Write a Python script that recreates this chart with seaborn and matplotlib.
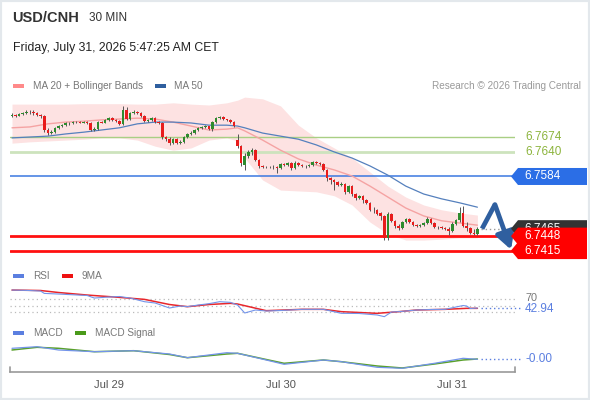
import numpy as np
import matplotlib
matplotlib.use("Agg")
import matplotlib.pyplot as plt
import seaborn as sns
from matplotlib.patches import Polygon, Rectangle
from matplotlib.transforms import IdentityTransform

sns.set_style("white")
plt.rcParams['font.family'] = ['Liberation Sans', 'DejaVu Sans']

# ---------------- data ----------------
opens = [
    6.7723, 6.7724, 6.7723, 6.7726, 6.7729, 6.7731, 6.7732, 6.7729, 6.7724, 6.7722,
    6.7690, 6.7683, 6.7685, 6.7695, 6.7699, 6.7701, 6.7705, 6.7706, 6.7708, 6.7708,
    6.7707, 6.7708, 6.7706, 6.7690, 6.7692, 6.7708, 6.7707, 6.7713, 6.7717, 6.7713,
    6.7710, 6.7704, 6.7736, 6.7715, 6.7729, 6.7731, 6.7729, 6.7722, 6.7710, 6.7713,
    6.7717, 6.7708, 6.7706, 6.7674, 6.7669, 6.7660, 6.7669, 6.7660, 6.7663, 6.7674,
    6.7681, 6.7683, 6.7690, 6.7695, 6.7697, 6.7698, 6.7692, 6.7708, 6.7717, 6.7720,
    6.7714, 6.7713, 6.7708, 6.7667, 6.7653, 6.7610, 6.7631, 6.7640, 6.7644, 6.7622,
    6.7608, 6.7606, 6.7606, 6.7605, 6.7606, 6.7603, 6.7612, 6.7610, 6.7615, 6.7603,
    6.7615, 6.7610, 6.7608, 6.7607, 6.7610, 6.7617, 6.7615, 6.7612, 6.7599, 6.7581,
    6.7576, 6.7571, 6.7565, 6.7567, 6.7549, 6.7562, 6.7544, 6.7535, 6.7540, 6.7530,
    6.7524, 6.7508, 6.7507, 6.7501, 6.7494, 6.7444, 6.7498, 6.7483, 6.7471, 6.7467,
    6.7480, 6.7487, 6.7480, 6.7473, 6.7471, 6.7473, 6.7478, 6.7487, 6.7478, 6.7469,
    6.7468, 6.7467, 6.7464, 6.7460, 6.7476, 6.7485, 6.7501, 6.7471, 6.7467, 6.7455,
    6.7453]
closes = [
    6.7725, 6.7723, 6.7726, 6.7729, 6.7731, 6.7732, 6.7729, 6.7724, 6.7722, 6.7690,
    6.7683, 6.7685, 6.7695, 6.7699, 6.7701, 6.7705, 6.7706, 6.7708, 6.7709, 6.7707,
    6.7708, 6.7706, 6.7690, 6.7692, 6.7708, 6.7707, 6.7713, 6.7717, 6.7713, 6.7710,
    6.7704, 6.7736, 6.7715, 6.7729, 6.7731, 6.7729, 6.7722, 6.7710, 6.7713, 6.7717,
    6.7708, 6.7706, 6.7674, 6.7669, 6.7660, 6.7669, 6.7660, 6.7663, 6.7674, 6.7681,
    6.7683, 6.7690, 6.7695, 6.7697, 6.7698, 6.7692, 6.7708, 6.7717, 6.7720, 6.7714,
    6.7713, 6.7708, 6.7699, 6.7653, 6.7615, 6.7631, 6.7640, 6.7644, 6.7622, 6.7608,
    6.7606, 6.7605, 6.7605, 6.7606, 6.7603, 6.7612, 6.7610, 6.7615, 6.7603, 6.7615,
    6.7610, 6.7608, 6.7607, 6.7610, 6.7617, 6.7615, 6.7612, 6.7599, 6.7581, 6.7576,
    6.7571, 6.7565, 6.7567, 6.7549, 6.7562, 6.7544, 6.7535, 6.7540, 6.7530, 6.7524,
    6.7508, 6.7507, 6.7498, 6.7494, 6.7444, 6.7498, 6.7483, 6.7471, 6.7467, 6.7480,
    6.7487, 6.7480, 6.7473, 6.7471, 6.7473, 6.7478, 6.7487, 6.7478, 6.7469, 6.7468,
    6.7467, 6.7464, 6.7460, 6.7476, 6.7485, 6.7501, 6.7471, 6.7467, 6.7455, 6.7453,
    6.7465]
highs = [
    6.7729, 6.7726, 6.7729, 6.7731, 6.7736, 6.7736, 6.7736, 6.7731, 6.7726, 6.7724,
    6.7695, 6.7690, 6.7697, 6.7701, 6.7704, 6.7708, 6.7708, 6.7710, 6.7710, 6.7710,
    6.7710, 6.7710, 6.7708, 6.7697, 6.7710, 6.7710, 6.7715, 6.7720, 6.7720, 6.7715,
    6.7713, 6.7745, 6.7742, 6.7731, 6.7736, 6.7733, 6.7731, 6.7724, 6.7715, 6.7720,
    6.7720, 6.7710, 6.7708, 6.7676, 6.7674, 6.7672, 6.7672, 6.7667, 6.7676, 6.7683,
    6.7688, 6.7692, 6.7697, 6.7699, 6.7701, 6.7699, 6.7710, 6.7720, 6.7722, 6.7722,
    6.7715, 6.7715, 6.7710, 6.7681, 6.7656, 6.7638, 6.7644, 6.7649, 6.7647, 6.7624,
    6.7610, 6.7608, 6.7608, 6.7610, 6.7608, 6.7615, 6.7615, 6.7617, 6.7617, 6.7619,
    6.7617, 6.7612, 6.7610, 6.7612, 6.7619, 6.7619, 6.7617, 6.7615, 6.7601, 6.7583,
    6.7578, 6.7574, 6.7571, 6.7569, 6.7565, 6.7565, 6.7546, 6.7542, 6.7542, 6.7533,
    6.7526, 6.7514, 6.7510, 6.7503, 6.7496, 6.7503, 6.7501, 6.7485, 6.7476, 6.7483,
    6.7489, 6.7489, 6.7483, 6.7476, 6.7476, 6.7480, 6.7492, 6.7489, 6.7480, 6.7471,
    6.7471, 6.7469, 6.7469, 6.7480, 6.7487, 6.7514, 6.7517, 6.7480, 6.7469, 6.7464,
    6.7469]
lows = [
    6.7720, 6.7720, 6.7722, 6.7724, 6.7726, 6.7726, 6.7724, 6.7722, 6.7717, 6.7685,
    6.7679, 6.7681, 6.7683, 6.7692, 6.7697, 6.7699, 6.7701, 6.7704, 6.7706, 6.7705,
    6.7706, 6.7704, 6.7688, 6.7688, 6.7690, 6.7706, 6.7706, 6.7710, 6.7710, 6.7708,
    6.7701, 6.7701, 6.7713, 6.7713, 6.7726, 6.7726, 6.7720, 6.7708, 6.7708, 6.7710,
    6.7706, 6.7704, 6.7669, 6.7665, 6.7656, 6.7658, 6.7658, 6.7658, 6.7660, 6.7672,
    6.7679, 6.7681, 6.7688, 6.7692, 6.7695, 6.7690, 6.7688, 6.7706, 6.7715, 6.7713,
    6.7710, 6.7706, 6.7697, 6.7649, 6.7608, 6.7599, 6.7626, 6.7633, 6.7619, 6.7603,
    6.7603, 6.7603, 6.7603, 6.7601, 6.7592, 6.7601, 6.7608, 6.7608, 6.7599, 6.7601,
    6.7608, 6.7606, 6.7603, 6.7606, 6.7608, 6.7612, 6.7610, 6.7596, 6.7574, 6.7567,
    6.7553, 6.7562, 6.7562, 6.7544, 6.7546, 6.7540, 6.7530, 6.7533, 6.7524, 6.7521,
    6.7505, 6.7501, 6.7496, 6.7485, 6.7439, 6.7439, 6.7480, 6.7467, 6.7462, 6.7464,
    6.7478, 6.7478, 6.7471, 6.7469, 6.7469, 6.7471, 6.7476, 6.7476, 6.7467, 6.7464,
    6.7464, 6.7462, 6.7451, 6.7458, 6.7473, 6.7480, 6.7469, 6.7460, 6.7453, 6.7451,
    6.7451]

date_ticks = [27, 75, 123]
date_labels = ["Jul 29", "Jul 30", "Jul 31"]

band_idx = [0, 5, 10, 15, 20, 25, 30, 35, 40, 45, 50, 55, 60, 63, 65, 70, 75,
            80, 85, 90, 95, 100, 105, 110, 115, 120, 125, 130]
bb_upper = [6.7749, 6.7749, 6.7749, 6.7749, 6.7750, 6.7750, 6.7750, 6.7749, 6.7749,
            6.7752, 6.7749, 6.7747, 6.7752, 6.7758, 6.7765, 6.7761, 6.7745, 6.7701,
            6.7672, 6.7649, 6.7626, 6.7594, 6.7562, 6.7537, 6.7519, 6.7508, 6.7501, 6.7496]
ma20 = [6.7695, 6.7697, 6.7704, 6.7708, 6.7710, 6.7713, 6.7715, 6.7717, 6.7715,
        6.7708, 6.7699, 6.7690, 6.7692, 6.7695, 6.7688, 6.7667, 6.7644, 6.7624,
        6.7610, 6.7599, 6.7585, 6.7562, 6.7537, 6.7512, 6.7494, 6.7483, 6.7478, 6.7473]
bb_lower = [6.7660, 6.7663, 6.7665, 6.7667, 6.7669, 6.7672, 6.7672, 6.7667, 6.7653,
            6.7644, 6.7649, 6.7667, 6.7672, 6.7665, 6.7626, 6.7576, 6.7553, 6.7551,
            6.7549, 6.7540, 6.7519, 6.7480, 6.7453, 6.7439, 6.7439, 6.7441, 6.7444, 6.7444]
ma50 = [6.7672, 6.7674, 6.7676, 6.7681, 6.7685, 6.7690, 6.7695, 6.7704, 6.7708,
        6.7708, 6.7706, 6.7701, 6.7701, 6.7699, 6.7695, 6.7683, 6.7676, 6.7669,
        6.7656, 6.7640, 6.7626, 6.7608, 6.7587, 6.7562, 6.7544, 6.7533, 6.7524, 6.7514]

resist_levels = [6.7674, 6.7640]
pivot_level = 6.7584
support_levels = [6.7448, 6.7415]

forecast_steps = [1.3, 4.9, 9.4]
forecast_prices = [6.7465, 6.7520, 6.7417]

rsi_idx = [0, 4, 8, 9, 13, 21, 23, 27, 30, 33, 37, 40, 44, 47, 49, 52, 55, 58, 61, 63,
           65, 68, 71, 75, 81, 87, 89, 92, 97, 102, 104, 106, 108, 113, 117, 121, 124,
           126, 127, 128, 130]
rsi_vals = [97, 96, 94, 87, 85, 80.6, 73, 76, 77.6, 73, 62, 58, 43, 49, 47, 52, 56, 62,
            60, 52, 28, 37, 34, 35.5, 39, 39, 34, 27, 26.5, 22, 17, 31, 32, 37, 38.5, 39,
            46, 50.5, 49, 41.5, 42.94]
ma9_idx = [0, 8, 13, 21, 30, 37, 44, 49, 55, 61, 63, 71, 81, 87, 92, 102, 108, 113,
           121, 127, 130]
ma9_vals = [97, 95.6, 89.6, 82, 75, 69, 53.5, 47, 53.5, 57, 55, 35, 39, 39, 32, 27, 32,
            37, 39, 42, 42]
rsi_grid = [70, 50, 30]
rsi_label_levels = [70]

macd_idx = [0, 7, 13, 23, 34, 44, 49, 60, 63, 71, 76, 87, 92, 102, 109, 118, 126, 130]
macd_vals = [0.00107, 0.00123, 0.00090, 0.00073, 0.00083, 0.00050, 0.00013, 0.00063,
             0.00057, -0.00010, -0.00053, -0.00010, -0.00027, -0.00083, -0.00093,
             -0.00043, 0.00007, -0.00003]
signal_vals = [0.00090, 0.00117, 0.00107, 0.00073, 0.00083, 0.00045, 0.00013, 0.00050,
               0.00057, -0.00005, -0.00043, -0.00010, -0.00027, -0.00070, -0.00090,
               -0.00050, -0.00010, 0.00000]

# ---------------- layout ----------------
W, H = 590, 400
fig = plt.figure(figsize=(W / 100, H / 100), dpi=100)
fig.patch.set_facecolor('white')


def rect(l, t, r, b):
    return [l / W, 1 - b / H, (r - l) / W, (b - t) / H]


def fx(px):
    return px / W


def fy(py):
    return 1 - py / H


XL = (-0.56, 140.5)
ax_p = fig.add_axes(rect(10, 95, 515, 262))
ax_r = fig.add_axes(rect(10, 285, 515, 325))
ax_m = fig.add_axes(rect(10, 340, 515, 372))
for a in (ax_p, ax_r, ax_m):
    a.set_xlim(*XL)
    a.set_facecolor('none')
ax_p.set_ylim(6.7389, 6.77698)
ax_r.set_ylim(-8.1, 112.2)
ax_m.set_ylim(-0.0013, 0.0019)

# frame around the picture
fig.add_artist(Rectangle((0, 0), 1, 1, transform=fig.transFigure, fill=False,
                         edgecolor='#e3e8ec', lw=3, zorder=10))

# ---------------- header ----------------
fig.text(fx(12), fy(18), "USD/CNH", fontsize=10.5, fontweight='bold', color='#333333', va='center')
fig.text(fx(89), fy(18), "30 MIN", fontsize=8.5, color='#333333', va='center')
fig.text(fx(13), fy(48), "Friday, July 31, 2026 5:47:25 AM CET", fontsize=8.8,
         color='#222222', va='center')


def swatch(x0, yc, color):
    fig.add_artist(Rectangle((fx(x0), fy(yc + 2)), 11 / W, 4 / H, transform=fig.transFigure,
                             facecolor=color, edgecolor='none'))


swatch(13, 86, '#ff8a8a')
fig.text(fx(33), fy(86), "MA 20 + Bollinger Bands", fontsize=7.2, color='#777777', va='center')
swatch(155, 86, '#2f5f9f')
fig.text(fx(174), fy(86), "MA 50", fontsize=7.2, color='#777777', va='center')
fig.text(fx(581), fy(86), "Research \u00a9 2026 Trading Central", fontsize=7.2, color='#9a9a9a',
         va='center', ha='right')

swatch(13, 276, '#5b7fe0')
fig.text(fx(33), fy(276), "RSI", fontsize=7.2, color='#777777', va='center')
swatch(62, 276, '#ee1111')
fig.text(fx(82), fy(276), "9MA", fontsize=7.2, color='#777777', va='center')
swatch(13, 333, '#5b7fe0')
fig.text(fx(33), fy(333), "MACD", fontsize=7.2, color='#777777', va='center')
swatch(75, 333, '#4a9a1a')
fig.text(fx(95), fy(333), "MACD Signal", fontsize=7.2, color='#777777', va='center')

# ---------------- price panel ----------------
ax_p.axis('off')
ax_p.fill_between(band_idx, bb_lower, bb_upper, color='#fde2e2', lw=0, zorder=1)
sns.lineplot(x=band_idx, y=ma20, ax=ax_p, color='#f5a3a3', linewidth=1, zorder=2)
sns.lineplot(x=band_idx, y=ma50, ax=ax_p, color='#5580bd', linewidth=0.9, zorder=2)

ax_p.axhline(resist_levels[0], color='#a9cf84', lw=1, zorder=1.5)
ax_p.axhline(resist_levels[1], color='#cde3bd', lw=2, zorder=1.5)
ax_p.axhline(pivot_level, color='#3a78e0', lw=1.1, zorder=1.5)
for lv in support_levels:
    ax_p.axhline(lv, color='#ff1010', lw=2, zorder=1.5)

o = np.array(opens)
c = np.array(closes)
hi = np.array(highs)
lo = np.array(lows)
x = np.arange(len(c))
diff = c - o
cols = np.where(diff > 0.00002, '#2e8b2e', np.where(diff < -0.00002, '#e81c1c', '#444444'))
body = np.maximum(np.abs(diff), 0.00006)
bottom = (o + c) / 2 - body / 2
ax_p.vlines(x, lo, hi, color='#555555', lw=0.7, zorder=3)
ax_p.bar(x, body, bottom=bottom, width=0.72, color=cols, linewidth=0, zorder=4)

last = closes[-1]
n = len(closes)
ax_p.hlines(last, n + 0.1, XL[1], colors='#9a9a9a', linestyles=(0, (1, 2)), lw=1, zorder=2)

# forecast arrow
fxs = [n - 1 + s for s in forecast_steps]
ax_p.plot(fxs[:2], forecast_prices[:2], color='#2f5f9f', lw=3.4, solid_capstyle='butt',
          zorder=6, clip_on=False)
ax_p.annotate('', xy=(fxs[2], forecast_prices[2]), xytext=(fxs[1], forecast_prices[1]),
              arrowprops=dict(arrowstyle='-|>,head_length=1.0,head_width=0.55', lw=3.4,
                              color='#2f5f9f', shrinkA=0, shrinkB=0), zorder=6,
              annotation_clip=False)


def tag(ax, value, text, fc, z):
    yp = ax.transData.transform((0, value))[1]
    h = 8.5
    tip, x1, x2 = 511, 518, 587
    poly = Polygon([(tip, yp), (x1, yp + h), (x2, yp + h), (x2, yp - h), (x1, yp - h)],
                   closed=True, transform=IdentityTransform(), facecolor=fc,
                   edgecolor='none', zorder=z)
    fig.add_artist(poly)
    fig.text(fx(524), yp / H, text, color='white', fontsize=8.5, va='center', ha='left',
             zorder=z + 0.05)


for lv in resist_levels:
    yp = ax_p.transData.transform((0, lv))[1]
    fig.text(fx(525), yp / H, f"{lv:.4f}", color='#8cb43c', fontsize=8.5, va='center')

tag(ax_p, pivot_level, f"{pivot_level:.4f}", '#2b6ee6', 5.0)
tag(ax_p, last, f"{last:.4f}", '#333333', 5.2)
tag(ax_p, support_levels[0], f"{support_levels[0]:.4f}", '#ff0000', 5.4)
tag(ax_p, support_levels[1], f"{support_levels[1]:.4f}", '#ff0000', 5.6)

# ---------------- RSI panel ----------------
ax_r.axis('off')
for g in rsi_grid:
    ax_r.axhline(g, color='#bbbbbb', lw=0.9, linestyle=(0, (1, 2.5)), zorder=1)
sns.lineplot(x=ma9_idx, y=ma9_vals, ax=ax_r, color='#e8262b', linewidth=1.1, zorder=2)
sns.lineplot(x=rsi_idx, y=rsi_vals, ax=ax_r, color='#7394ea', linewidth=0.8, zorder=3)
ax_r.hlines(rsi_vals[-1], n, 141.8, colors='#5b7fe0', linestyles=(0, (1, 2)), lw=1,
            clip_on=False)
for g in rsi_label_levels:
    yp = ax_r.transData.transform((0, g))[1]
    fig.text(fx(525), yp / H + 1.5 / H, f"{g}", color='#777777', fontsize=7.8, va='center')
yp = ax_r.transData.transform((0, rsi_vals[-1]))[1]
fig.text(fx(525), yp / H - 1 / H, f"{rsi_vals[-1]:.2f}", color='#5b7fe0', fontsize=8.5,
         va='center', zorder=4)

# ---------------- MACD panel ----------------
sns.lineplot(x=macd_idx, y=signal_vals, ax=ax_m, color='#5aa02c', linewidth=1.1, zorder=2)
sns.lineplot(x=macd_idx, y=macd_vals, ax=ax_m, color='#7394ea', linewidth=0.9, zorder=3)
ax_m.hlines(macd_vals[-1], n, 141.8, colors='#5b7fe0', linestyles=(0, (1, 2)), lw=1,
            clip_on=False)
yp = ax_m.transData.transform((0, macd_vals[-1]))[1]
fig.text(fx(525), yp / H, f"{macd_vals[-1]:.2f}", color='#5b7fe0', fontsize=8.5, va='center')

ax_m.set_xlabel('')
ax_m.set_ylabel('')
for s in ('top', 'left', 'right'):
    ax_m.spines[s].set_visible(False)
ax_m.spines['bottom'].set_color('#999999')
ax_m.spines['bottom'].set_linewidth(1.2)
ax_m.set_yticks([])
ax_m.set_xticks(date_ticks)
ax_m.set_xticklabels(date_labels, fontsize=8, color='#555555')
ax_m.tick_params(axis='x', length=0, pad=6)
for xe in XL:
    ax_m.axvline(xe, ymin=0, ymax=0.17, color='#999999', lw=1.2, clip_on=False)

fig.savefig("out.png", dpi=100, facecolor='white')
